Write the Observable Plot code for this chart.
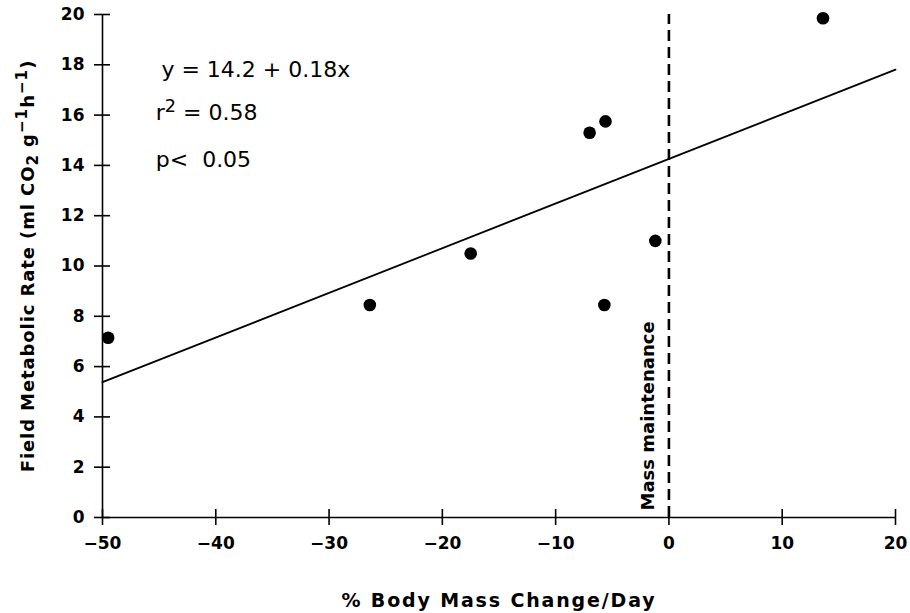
<!DOCTYPE html>
<html><head><meta charset="utf-8">
<script src="https://cdn.jsdelivr.net/npm/d3@7"></script>
<script src="https://cdn.jsdelivr.net/npm/@observablehq/plot@0.6"></script>
<style>body{margin:0;background:#fff} svg{display:block}</style>
</head><body><div id="chart"></div>
<script>
const massChange = [-49.5, -26.4, -17.5, -7.0, -5.6, -5.7, -1.2, 13.6];
const fmr = [7.15, 8.45, 10.5, 15.3, 15.75, 8.45, 11.0, 19.85];
const fitX = [-50, 20];
const fitY = [5.38, 17.81];
const massMaintenance = 0;
const xTicks = [-50, -40, -30, -20, -10, 0, 10, 20];
const yTicks = [0, 2, 4, 6, 8, 10, 12, 14, 16, 18, 20];
const annoText = ["y = 14.2 + 0.18x", "r² = 0.58", "p<  0.05"];
const annoX = [-44.8, -45.3, -45.3];
const annoY = [17.8, 16.1, 14.2];
const xLabel = "% Body Mass Change/Day";
const yLabel = "Field Metabolic Rate (ml CO₂ g⁻¹h⁻¹)";
const vLabel = "Mass maintenance";

const points = massChange.map((x, i) => ({x, y: fmr[i]}));
const fit = fitX.map((x, i) => ({x, y: fitY[i]}));
const anno = annoText.map((t, i) => ({t, x: annoX[i], y: annoY[i]}));
const x0 = xTicks[0], y0 = yTicks[0];
const xMax = xTicks[xTicks.length - 1], yMax = yTicks[yTicks.length - 1];

const chart = Plot.plot({
  width: 910, height: 613,
  marginLeft: 102, marginRight: 15, marginTop: 14, marginBottom: 96,
  style: {fontFamily: "DejaVu Sans", background: "#fff", color: "#000"},
  x: {domain: [x0, xMax]},
  y: {domain: [y0, yMax]},
  marks: [
    Plot.axisX({ticks: xTicks, tickSize: 0, tickPadding: 19, tickFormat: d3.format("d"), fontSize: 17, fontWeight: "bold", label: null}),
    Plot.axisY({ticks: yTicks, tickSize: 0, tickPadding: 18, tickFormat: d3.format("d"), fontSize: 17, fontWeight: "bold", label: null}),
    Plot.ruleY([y0], {x1: x0, x2: xMax, strokeWidth: 1.6}),
    Plot.ruleX([x0], {y1: y0, y2: yMax, strokeWidth: 1.6}),
    Plot.ruleY(yTicks, {y: d => d, x1: x0, x2: x0, insetLeft: -8, insetRight: -8, strokeWidth: 1.6}),
    Plot.ruleX(xTicks, {x: d => d, y1: y0, y2: y0, insetTop: -8, insetBottom: -8, strokeWidth: 1.6}),
    Plot.ruleX([massMaintenance], {y1: y0, y2: yMax, strokeWidth: 2.6, strokeDasharray: "11,6"}),
    Plot.line(fit, {x: "x", y: "y", strokeWidth: 1.8}),
    Plot.dot(points, {x: "x", y: "y", r: 6.3, fill: "#000", stroke: "none"}),
    Plot.text(anno, {x: "x", y: "y", text: "t", textAnchor: "start", lineAnchor: "middle", fontSize: 22}),
    Plot.text([vLabel], {x: massMaintenance, y: y0, text: d => d, rotate: -90, textAnchor: "start", lineAnchor: "bottom", dx: -15, dy: -7, fontSize: 18, fontWeight: "bold"}),
    Plot.text([yLabel], {frameAnchor: "left", text: d => d, rotate: -90, textAnchor: "middle", lineAnchor: "bottom", dx: -69, fontSize: 18, fontWeight: "bold"}),
    Plot.text([xLabel], {frameAnchor: "bottom", text: d => d, textAnchor: "middle", lineAnchor: "bottom", dy: 89, fontSize: 19, fontWeight: "bold"})
  ]
});
document.getElementById("chart").appendChild(chart);

// render super/subscripts as real raised/lowered text, and widen label spacing
const NS = "http://www.w3.org/2000/svg";
function rich(el, parts) {
  while (el.firstChild) el.removeChild(el.firstChild);
  for (const p of parts) {
    const t = document.createElementNS(NS, "tspan");
    t.textContent = p.t;
    if (p.dy) t.setAttribute("dy", p.dy);
    if (p.fs) t.setAttribute("font-size", p.fs);
    el.appendChild(t);
  }
}
chart.querySelectorAll("text").forEach(el => {
  const s = el.textContent;
  if (s === annoText[1]) {
    rich(el, [{t: "r"}, {t: "2", dy: "-0.42em", fs: "0.8em"}, {t: " = 0.58", dy: "0.336em"}]);
  } else if (s === yLabel) {
    el.style.letterSpacing = "0.9px";
    rich(el, [
      {t: "Field Metabolic Rate (ml CO"}, {t: "2", dy: "0.3em", fs: "0.85em"},
      {t: " g", dy: "-0.255em"}, {t: "−1", dy: "-0.45em", fs: "0.85em"},
      {t: "h", dy: "0.3825em"}, {t: "−1", dy: "-0.45em", fs: "0.85em"},
      {t: ")", dy: "0.3825em"}
    ]);
  } else if (s === xLabel) {
    el.style.letterSpacing = "1.85px";
  }
});
</script>
</body></html>
